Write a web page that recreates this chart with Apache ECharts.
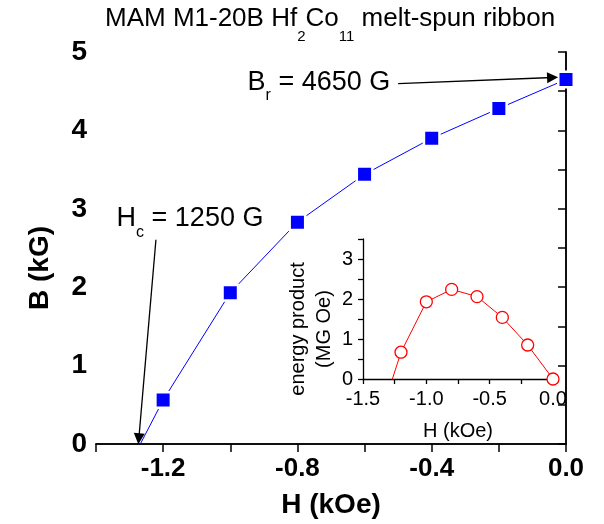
<!DOCTYPE html>
<html>
<head>
<meta charset="utf-8">
<script src="https://cdn.jsdelivr.net/npm/echarts@6.0.0/dist/echarts.min.js"></script>
<style>
  html, body { margin: 0; padding: 0; background: #fff; }
  #chart { width: 604px; height: 524px; }
</style>
</head>
<body>
<div id="chart"></div>
<script>
// demagnetisation curve, B vs H (second quadrant)
const hField = [-1.2, -1.0, -0.8, -0.6, -0.4, -0.2, 0.0];
const bInduction = [0.56, 1.93, 2.83, 3.44, 3.90, 4.28, 4.65];
// inset: energy product B*H
const energyProduct = [0.67, 1.93, 2.24, 2.06, 1.54, 0.85, 0.0];
const hCoercive = -1.268;

const mainXTicks = ['-1.2', '-0.8', '-0.4', '0.0'];
const mainYTicks = ['0', '1', '2', '3', '4', '5'];
const insetXTicks = ['-1.5', '-1.0', '-0.5', '0.0'];
const insetYTicks = ['0', '1', '2', '3'];

const FONT = '"Liberation Sans", Arial, sans-serif';

const pickX = (list) => (v) => {
    const s = (Math.abs(v) < 1e-9 ? 0 : v).toFixed(1);
    return list.includes(s) ? s : '';
};
const pickY = (list) => (v) => {
    const s = String(Math.round(v * 100) / 100);
    return list.includes(s) ? s : '';
};

const blackLine = { lineStyle: { color: '#000', width: 1.5 } };

const chart = echarts.init(document.getElementById('chart'));

const option = {
    animation: false,
    backgroundColor: '#fff',
    title: {
        left: 105,
        top: -7,
        padding: 0,
        text: '{m|MAM M1-20B Hf}{s|2}{m|Co}{s|11}{m| melt-spun ribbon}',
        textStyle: {
            fontWeight: 'normal',
            rich: {
                m: { fontFamily: FONT, fontSize: 26, fontWeight: 'normal', color: '#000' },
                s: { fontFamily: FONT, fontSize: 15, fontWeight: 'normal', color: '#000', padding: [36, 0, 0, 0] }
            }
        }
    },
    grid: [
        { left: 96, top: 52, width: 470, height: 396 },
        { left: 363, top: 239, width: 190, height: 140 }
    ],
    xAxis: [
        {
            gridIndex: 0, type: 'value', position: 'bottom',
            min: -1.4, max: 0, interval: 0.2,
            axisLine: blackLine,
            axisTick: { inside: false, length: 5, lineStyle: { color: '#000', width: 1.5 } },
            axisLabel: {
                formatter: pickX(mainXTicks), margin: 12,
                fontFamily: FONT, fontSize: 26, fontWeight: 'bold', color: '#000'
            },
            splitLine: { show: false },
            name: 'H (kOe)', nameLocation: 'middle', nameGap: 47,
            nameTextStyle: { fontFamily: FONT, fontSize: 28, fontWeight: 'bold', color: '#000' }
        },
        {
            gridIndex: 0, type: 'value', position: 'top',
            min: -1.4, max: 0, interval: 0.2,
            axisLine: blackLine,
            axisTick: { inside: true, length: 8, lineStyle: { color: '#000', width: 1.5 } },
            axisLabel: { show: false },
            splitLine: { show: false }
        },
        {
            gridIndex: 1, type: 'value', position: 'bottom',
            min: -1.5, max: 0, interval: 0.25,
            axisLine: { onZero: false, lineStyle: { color: '#000', width: 1.3 } },
            axisTick: { inside: false, length: 5, lineStyle: { color: '#000', width: 1.3 } },
            axisLabel: {
                formatter: pickX(insetXTicks), margin: 10,
                fontFamily: FONT, fontSize: 20, color: '#000'
            },
            splitLine: { show: false },
            name: 'H (kOe)', nameLocation: 'middle', nameGap: 42,
            nameTextStyle: { fontFamily: FONT, fontSize: 20, color: '#000' }
        }
    ],
    yAxis: [
        {
            gridIndex: 0, type: 'value', position: 'left',
            min: 0, max: 5, interval: 0.5,
            axisLine: blackLine,
            axisTick: { inside: false, length: 5, lineStyle: { color: '#000', width: 1.5 } },
            axisLabel: {
                formatter: pickY(mainYTicks), margin: 9,
                fontFamily: FONT, fontSize: 28, fontWeight: 'bold', color: '#000'
            },
            splitLine: { show: false },
            name: 'B (kG)', nameLocation: 'middle', nameGap: 42,
            nameTextStyle: {
                fontFamily: FONT, fontSize: 28, fontWeight: 'bold', color: '#000',
                padding: [0, 40, 0, 0]
            }
        },
        {
            gridIndex: 0, type: 'value', position: 'right',
            min: 0, max: 5, interval: 0.5,
            axisLine: blackLine,
            axisTick: { inside: true, length: 8, lineStyle: { color: '#000', width: 1.5 } },
            axisLabel: { show: false },
            splitLine: { show: false }
        },
        {
            gridIndex: 1, type: 'value', position: 'left',
            min: 0, max: 3.5, interval: 0.5,
            axisLine: { onZero: false, lineStyle: { color: '#000', width: 1.3 } },
            axisTick: { inside: false, length: 5, lineStyle: { color: '#000', width: 1.3 } },
            axisLabel: {
                formatter: pickY(insetYTicks), margin: 10,
                fontFamily: FONT, fontSize: 20, color: '#000'
            },
            splitLine: { show: false },
            name: 'energy product\n(MG Oe)', nameLocation: 'middle', nameGap: 25,
            nameTextStyle: {
                fontFamily: FONT, fontSize: 20, color: '#000', lineHeight: 26,
                padding: [0, 40, 0, 0]
            }
        }
    ],
    series: [
        {
            name: 'B',
            type: 'line',
            xAxisIndex: 0, yAxisIndex: 0,
            data: [{ value: [hCoercive, 0], symbol: 'none' }]
                .concat(hField.map((h, i) => [h, bInduction[i]])),
            symbol: 'rect',
            symbolSize: 15.5,
            itemStyle: { color: '#0000ff', borderColor: '#fff', borderWidth: 2.5 },
            lineStyle: { color: '#0000ff', width: 1 },
            markLine: {
                silent: true,
                symbol: ['none', 'triangle'],
                symbolSize: 11,
                label: { show: false },
                lineStyle: { color: '#000', width: 1.3, type: 'solid' },
                data: [
                    [{ coord: [-1.2215, 2.605] }, { coord: [-1.2725, 0.066] }],
                    [{ coord: [-0.5, 4.596] }, { coord: [-0.04, 4.675] }]
                ]
            },
            markPoint: {
                silent: true,
                symbol: 'circle',
                symbolSize: 1,
                itemStyle: { color: 'rgba(0,0,0,0)' },
                label: {
                    show: true,
                    position: 'inside',
                    rich: {
                        m: { fontFamily: FONT, fontSize: 27, color: '#000' },
                        s: { fontFamily: FONT, fontSize: 16, color: '#000', padding: [27, 0, 0, 0] }
                    }
                },
                data: [
                    { coord: [-1.12, 2.87], label: { formatter: '{m|H}{s|c}{m| = 1250 G}' } },
                    { coord: [-0.736, 4.61], label: { formatter: '{m|B}{s|r}{m| = 4650 G}' } }
                ]
            }
        },
        {
            name: 'energy product',
            type: 'line',
            xAxisIndex: 2, yAxisIndex: 2,
            data: [{ value: [hCoercive, 0], symbol: 'none' }]
                .concat(hField.map((h, i) => [h, energyProduct[i]])),
            symbol: 'circle',
            symbolSize: 12,
            itemStyle: { color: '#fff', borderColor: '#ff0000', borderWidth: 1.3 },
            lineStyle: { color: '#ff0000', width: 1 }
        }
    ]
};

chart.setOption(option);
</script>
</body>
</html>
